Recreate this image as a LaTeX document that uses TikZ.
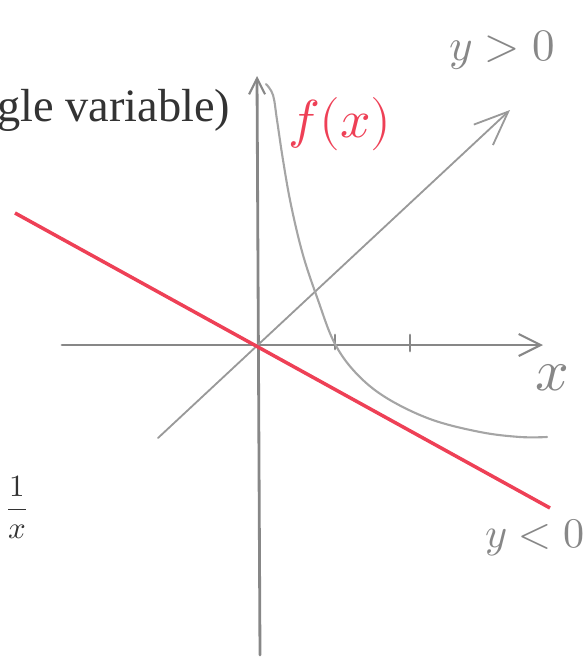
\documentclass[tikz,border=0pt]{standalone}
\usepackage{fontspec}
\usepackage{unicode-math}
\setmainfont{Liberation Serif}
\setmathfont{Latin Modern Math}
\usetikzlibrary{arrows.meta}
\usetikzlibrary{positioning}

\definecolor{penred}{RGB}{238,64,86}
\definecolor{pengray}{RGB}{135,135,135}

\begin{document}
\begin{tikzpicture}[
  x=0.05cm, y=-0.05cm,
  every node/.style={inner sep=0pt, outer sep=0pt},
  axis/.style={draw=pengray, line width=4pt, line cap=round},
  pencil/.style={draw=pengray!75, line width=3pt, line cap=round},
  redline/.style={draw=penred, line width=5pt},
  hand/.style={text=pengray, font=\fontsize{64}{64}\selectfont},
]
\useasboundingbox (0,0) rectangle (587,659);

%% axes
\coordinate (O)  at (260,345);
\coordinate (Yb) at (260,655);
\coordinate (Yt) at (257,76);
\coordinate (Xl) at (62,345);
\coordinate (Xr) at (543,345);
\coordinate (Dl) at (158,438);
\coordinate (Dr) at (510,110);

\draw[axis, -{Straight Barb[length=8mm, width=8mm, line width=3pt]}] (Yb) -- (Yt);
\draw[axis, -{Straight Barb[length=11mm, width=11mm, line width=3pt]}] (Xl) -- (Xr);
\draw[pencil, draw=pengray!85, line width=2.6pt,
  -{Straight Barb[length=17mm, width=14mm, line width=2.6pt]}] (Dl) -- (Dr);

%% ticks
\draw[axis] (335,335) -- (335,349);
\draw[axis] (410,335) -- (410,351);

%% red line
\coordinate (Rl) at (15,213);
\coordinate (Rr) at (550,508);
\draw[redline] (Rl) -- (Rr);

%% curve
\draw[pencil] plot[smooth, tension=0.6] coordinates {
  (266,84) (273,95) (277,120) (283,160) (291,205) (303,255)
  (318,300) (334,342) (355,372) (385,397) (430,419) (480,432)
  (520,437) (547,437)};

%% labels
\node (title) [anchor=base west, text=black!80, font=\fontsize{66}{66}\selectfont]
  at (-3,121) {gle variable)};
\node (frac) [text=black!80, font=\fontsize{44}{44}\selectfont] at (17,507)
  {$\displaystyle\frac{1}{x}$};
\node (fx) [text=penred, font=\fontsize{76}{76}\selectfont] at (340,124) {$f(x)$};
\node (ypos) [hand] at (502,50) {$y>0$};
\node (xlab) [hand, font=\fontsize{84}{84}\selectfont] at (552,378) {$x$};
\node (yneg) [hand, font=\fontsize{60}{60}\selectfont] at (535,538) {$y<0$};

\end{tikzpicture}
\end{document}
